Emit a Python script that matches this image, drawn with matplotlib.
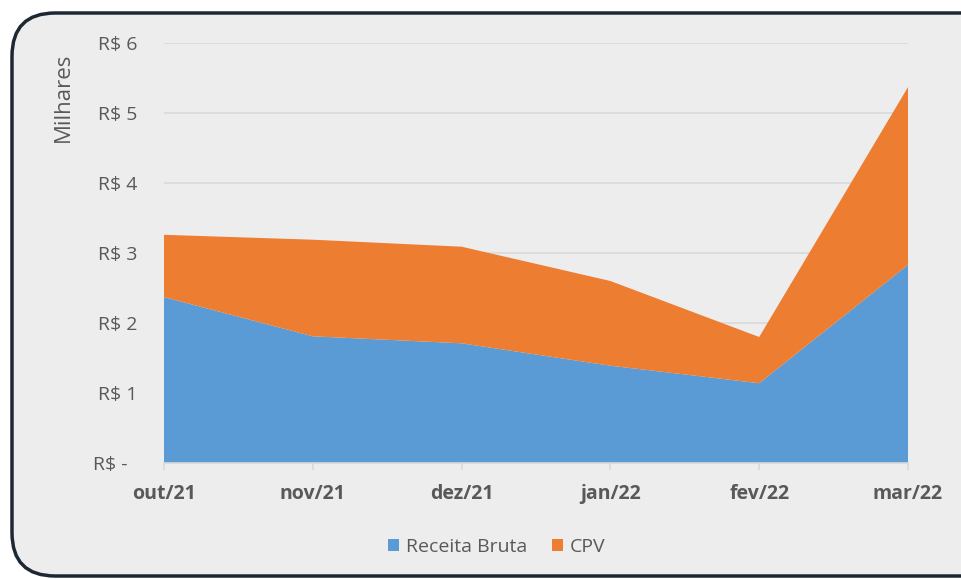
import matplotlib.pyplot as plt
from matplotlib.patches import FancyBboxPatch

meses = ["out/21", "nov/21", "dez/21", "jan/22", "fev/22", "mar/22"]
receita_bruta = [2.37, 1.81, 1.71, 1.39, 1.14, 2.83]
cpv = [0.89, 1.38, 1.38, 1.21, 0.66, 2.54]
y_ticks = [0, 1, 2, 3, 4, 5, 6]
y_labels = ["R$ -  ", "R$ 1", "R$ 2", "R$ 3", "R$ 4", "R$ 5", "R$ 6"]

plt.rcParams['font.family'] = ['Open Sans', 'DejaVu Sans']
cor_texto = "#595959"

fig = plt.figure(figsize=(9.61, 5.79), dpi=100)
fig.patch.set_facecolor("white")

# moldura arredondada (sai pela direita)
moldura = FancyBboxPatch((12 / 961, 3 / 579), 1.1, 1 - 16 / 579,
                         boxstyle="round,pad=0,rounding_size=0.045",
                         transform=fig.transFigure, facecolor="#ededed",
                         edgecolor="#1e2833", linewidth=2.5, zorder=-10,
                         mutation_aspect=961 / 579)
fig.patches.append(moldura)

ax = fig.add_axes([164 / 961, 1 - 463 / 579, (908 - 164) / 961, (463 - 43) / 579])
ax.set_facecolor("none")
ax.set_zorder(5)

x = list(range(len(meses)))
ax.stackplot(x, receita_bruta, cpv, colors=["#5b9bd5", "#ed7d31"],
             labels=["Receita Bruta", "CPV"], zorder=2)

ax.set_xlim(0, len(meses) - 1)
ax.set_ylim(0, 6)
ax.set_yticks(y_ticks)
ax.set_yticklabels(y_labels)
ax.set_xticks(x)
ax.set_xticklabels(meses, fontweight="bold")

ax.grid(axis="y", color="#d9d9d9", linewidth=1.2, zorder=1)
ax.set_axisbelow(True)
for s in ["top", "right", "left"]:
    ax.spines[s].set_visible(False)
ax.spines["bottom"].set_color("#d9d9d9")
ax.spines["bottom"].set_linewidth(1.2)

ax.tick_params(axis="y", length=0, pad=19, labelsize=14, labelcolor=cor_texto)
ax.tick_params(axis="x", length=5, width=1.2, color="#d9d9d9", pad=10,
               labelsize=14, labelcolor=cor_texto)

ax.set_ylabel("Milhares", fontsize=16, color=cor_texto)
ax.yaxis.set_label_coords(-(164 - 63) / 744, (463 - 97) / 420)
ax.yaxis.label.set_va("center")

leg = fig.legend(loc="center", bbox_to_anchor=(497 / 961, 1 - 547 / 579), ncol=2,
                 frameon=False, fontsize=14, handlelength=0.55, handleheight=0.55,
                 handletextpad=0.35, columnspacing=1.3)
for t in leg.get_texts():
    t.set_color(cor_texto)

fig.savefig("out.png", dpi=100)
